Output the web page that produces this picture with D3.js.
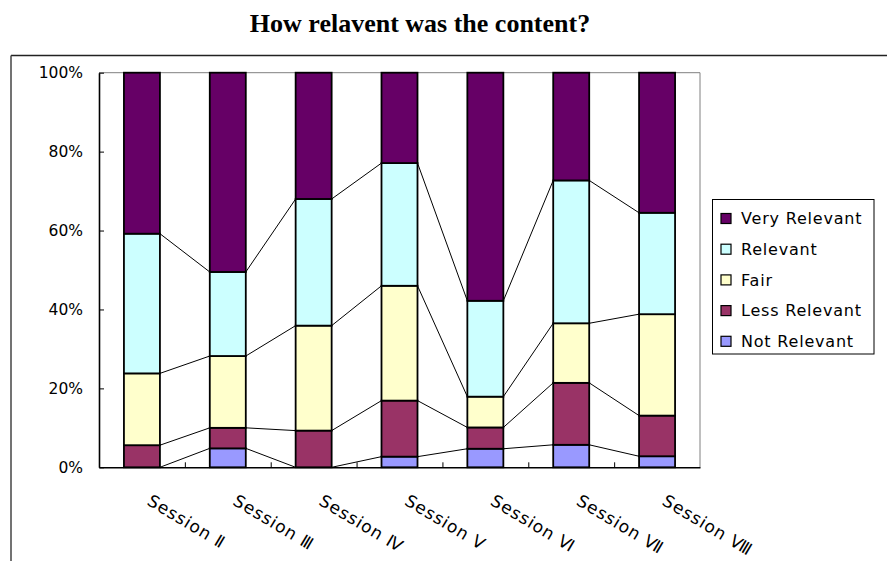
<!DOCTYPE html>
<html>
<head>
<meta charset="utf-8">
<script src="https://cdn.jsdelivr.net/npm/d3@7"></script>
<style>
  body { margin: 0; background: #fff; }
  svg { display: block; }
</style>
</head>
<body>
<svg id="chart" width="887" height="561"></svg>
<script>
// Share of answers per session (percent), bottom segment first
const sessions = ["Session Ⅱ", "Session Ⅲ", "Session Ⅳ", "Session Ⅴ", "Session Ⅵ", "Session Ⅶ", "Session Ⅷ"];
const seriesNames = ["Not Relevant", "Less Relevant", "Fair", "Relevant", "Very Relevant"];
const notRelevant  = [0.0, 4.8, 0.0, 2.7, 4.7, 5.7, 2.8];
const lessRelevant = [5.6, 5.2, 9.3, 14.2, 5.4, 15.7, 10.3];
const fair         = [18.2, 18.2, 26.6, 29.1, 7.8, 15.1, 25.7];
const relevant     = [35.4, 21.3, 32.1, 31.1, 24.3, 36.2, 25.7];
const veryRelevant = [40.8, 50.5, 32.0, 22.9, 57.8, 27.3, 35.5];
const yTicks = [0, 20, 40, 60, 80, 100];
const colors = ["#9999FF", "#993366", "#FFFFCC", "#CCFFFF", "#660066"];

const seriesValues = [notRelevant, lessRelevant, fair, relevant, veryRelevant];
const rows = sessions.map((s, i) => {
  const r = { session: s };
  seriesNames.forEach((n, k) => { r[n] = seriesValues[k][i]; });
  return r;
});

const svg = d3.select("#chart");
const plot = { left: 99, right: 700, top: 72.7, bottom: 467.3 };
const barWidth = 36;

const x = d3.scaleBand().domain(sessions).range([plot.left, plot.right]).padding(0);
const xEdge = d3.scaleLinear().domain([0, sessions.length]).range([plot.left, plot.right]);
const y = d3.scaleLinear().domain([0, 100]).range([plot.bottom, plot.top]);
const color = d3.scaleOrdinal().domain(seriesNames).range(colors);

const stacked = d3.stack().keys(seriesNames)(rows);
const barX = s => x(s) + (x.bandwidth() - barWidth) / 2;

// Outer chart frame (top and left edges visible)
svg.append("line").attr("x1", 11).attr("x2", 887).attr("y1", 55.5).attr("y2", 55.5)
  .attr("stroke", "#222").attr("stroke-width", 1.3);
svg.append("line").attr("x1", 11).attr("x2", 11).attr("y1", 55.5).attr("y2", 561)
  .attr("stroke", "#444").attr("stroke-width", 1.5);

// Title
svg.append("text")
  .attr("x", 420).attr("y", 32)
  .attr("text-anchor", "middle")
  .attr("font-family", "'Liberation Serif', 'Times New Roman', serif")
  .attr("font-weight", "bold")
  .attr("font-size", 26)
  .text("How relavent was the content?");

// Plot area border (top and right in grey)
svg.append("path")
  .attr("d", `M${plot.left},${plot.top}H${plot.right}V${plot.bottom}`)
  .attr("fill", "none").attr("stroke", "#808080").attr("stroke-width", 1);

// Series lines joining the segment boundaries of neighbouring bars
const lineG = svg.append("g").attr("stroke", "#000").attr("stroke-width", 1).attr("fill", "none");
stacked.slice(0, seriesNames.length - 1).forEach(layer => {
  for (let i = 0; i < sessions.length - 1; i++) {
    const a = layer[i], b = layer[i + 1];
    lineG.append("line")
      .attr("x1", barX(sessions[i]) + barWidth).attr("y1", y(a[1]))
      .attr("x2", barX(sessions[i + 1])).attr("y2", y(b[1]));
  }
});

// Stacked bars
svg.append("g").selectAll("g").data(stacked).join("g")
  .attr("fill", d => color(d.key))
  .selectAll("rect").data(d => d.filter(p => p[1] - p[0] > 0)).join("rect")
  .attr("x", d => barX(d.data.session))
  .attr("width", barWidth)
  .attr("y", d => y(d[1]))
  .attr("height", d => y(d[0]) - y(d[1]))
  .attr("stroke", "#000").attr("stroke-width", 1.8);

// Y axis
const yAxis = svg.append("g").attr("transform", `translate(${plot.left},0)`)
  .call(d3.axisLeft(y).tickValues(yTicks).tickFormat(d => d + "%").tickSizeInner(-5).tickSizeOuter(0).tickPadding(16));
yAxis.select(".domain").attr("stroke", "#000").attr("stroke-width", 1.6);
yAxis.selectAll(".tick line").attr("stroke", "#000");
yAxis.selectAll("text")
  .attr("font-family", "'DejaVu Sans', sans-serif").attr("font-size", 15.5).attr("fill", "#000");

// X axis (ticks between categories)
const xAxis = svg.append("g").attr("transform", `translate(0,${plot.bottom})`)
  .call(d3.axisBottom(xEdge).tickValues(d3.range(1, sessions.length)).tickFormat("").tickSizeInner(-5).tickSizeOuter(0));
xAxis.select(".domain").attr("stroke", "#000").attr("stroke-width", 1.6);
xAxis.selectAll(".tick line").attr("stroke", "#000");

// Slanted category labels
svg.append("g").selectAll("text").data(sessions).join("text")
  .attr("transform", d => `translate(${x(d) + x.bandwidth() / 2 + 4},504) rotate(31)`)
  .attr("font-family", "'DejaVu Sans', sans-serif")
  .attr("font-size", 17)
  .attr("letter-spacing", 1)
  .attr("fill", "#000")
  .text(d => d);

// Legend
const legend = svg.append("g");
legend.append("rect")
  .attr("x", 712.5).attr("y", 199.5).attr("width", 161.5).attr("height", 154.5)
  .attr("fill", "#fff").attr("stroke", "#000").attr("stroke-width", 1);
const legendItems = seriesNames.slice().reverse();
const li = legend.selectAll("g.item").data(legendItems).join("g")
  .attr("class", "item")
  .attr("transform", (d, i) => `translate(0,${218.5 + i * 30.7})`);
li.append("rect")
  .attr("x", 721).attr("y", -5).attr("width", 10).attr("height", 10)
  .attr("fill", d => color(d)).attr("stroke", "#000").attr("stroke-width", 1.2);
li.append("text")
  .attr("x", 741).attr("y", 0).attr("dy", "0.36em")
  .attr("font-family", "'DejaVu Sans', sans-serif")
  .attr("font-size", 16)
  .attr("letter-spacing", 0.8)
  .attr("fill", "#000")
  .text(d => d);
</script>
</body>
</html>
